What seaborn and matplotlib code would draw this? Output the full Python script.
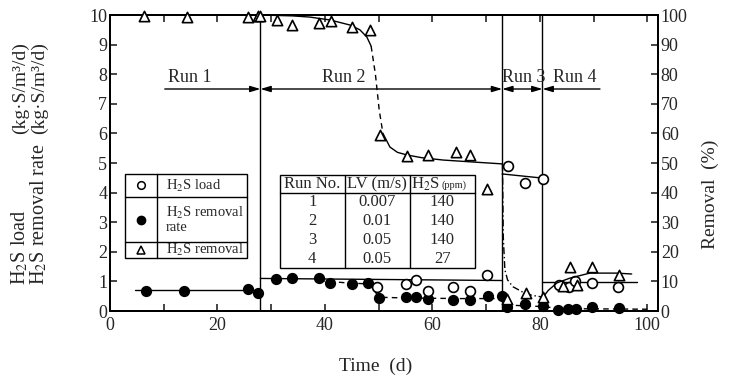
import matplotlib
matplotlib.use("Agg")
import matplotlib.pyplot as plt
import seaborn as sns
from matplotlib.patches import Rectangle

# --- data ---
# H2S removal rate (filled circles), kg-S/m3/d
rate_day = [6.7, 13.8, 25.7, 27.5, 30.9, 33.9, 38.9, 40.9, 45.0, 48.0, 50.0, 55.1, 56.9,
            59.2, 63.8, 67.0, 70.3, 72.9, 73.9, 77.2, 80.6, 83.3, 85.2, 86.7, 89.7, 94.7]
rate_val = [0.68, 0.68, 0.74, 0.61, 1.08, 1.11, 1.11, 0.95, 0.91, 0.95, 0.44, 0.47, 0.47,
            0.41, 0.37, 0.37, 0.51, 0.51, 0.14, 0.24, 0.17, 0.03, 0.07, 0.07, 0.14, 0.10]
# H2S load (open circles), kg-S/m3/d
load_day = [49.7, 55.1, 56.9, 59.2, 63.8, 67.0, 70.1, 74.0, 77.2, 80.6, 83.5, 85.4, 86.5, 89.7, 94.5]
load_val = [0.81, 0.91, 1.05, 0.68, 0.81, 0.68, 1.22, 4.90, 4.32, 4.46, 0.88, 0.81, 1.03, 0.95, 0.81]
# H2S removal (triangles), %
rem_day = [6.3, 14.3, 25.7, 27.5, 27.9, 31.1, 33.9, 38.9, 41.1, 45.0, 48.4, 50.2, 55.3, 59.2,
           64.4, 67.0, 70.1, 73.9, 77.4, 80.6, 84.3, 85.6, 86.9, 89.7, 94.7]
rem_val = [99.7, 99.4, 99.4, 99.7, 99.7, 98.3, 96.6, 97.3, 98.0, 95.9, 94.9, 59.5, 52.4, 52.7,
           53.7, 52.7, 41.2, 4.0, 6.2, 4.7, 8.5, 14.9, 8.7, 14.9, 12.2]

# trend lines
run1_x, run1_y = [4.7, 28], [0.71, 0.71]
load2_x, load2_y = [28, 73], [1.10, 1.03]
load3_x, load3_y = [73, 80.5], [4.63, 4.49]
load4_x, load4_y = [80.5, 98], [0.98, 0.98]
rate_fit_x = [39, 44, 47.5, 48.8, 49.6, 51, 55, 60, 65, 72.5, 73.2, 74, 80.5, 84, 100]
rate_fit_y = [1.03, 0.95, 0.92, 0.82, 0.58, 0.46, 0.44, 0.43, 0.42, 0.42, 0.30, 0.20, 0.15, 0.08, 0.06]
rem2a_x = [28, 34, 37.2, 41, 44.7, 46.5, 47.8, 48.6]
rem2a_y = [100, 99.7, 99.3, 98.3, 96.6, 95.0, 92.6, 89.5]
rem2b_x = [48.6, 49.4, 50.1, 50.8]
rem2b_y = [89.5, 80, 68, 60]
rem2c_x = [50.8, 52.1, 53.5, 55.3, 58, 62, 67, 73]
rem2c_y = [60, 55.4, 53.6, 52.7, 51.8, 51.0, 50.4, 49.7]
rem3_x = [73.05, 73.2, 73.5, 74.0, 75.0, 76.8, 78.5, 80.6]
rem3_y = [49.7, 25, 13.9, 10.5, 8.2, 6.4, 5.3, 4.7]
rem4_x = [80.6, 81.6, 83.2, 85.6, 89.3, 94.3, 97.1]
rem4_y = [4.7, 7.0, 9.5, 11.1, 12.8, 12.8, 12.5]

# runs
run_names = ["Run 1", "Run 2", "Run 3", "Run 4"]
run_start = [10.2, 28, 73, 80.5]
run_end = [28, 73, 80.5, 91.2]
run_label_x = [14.9, 43.6, 77.0, 86.5]
run_bounds = [28, 73, 80.5]

# conditions table
tab_run = ["1", "2", "3", "4"]
tab_lv = ["0.007", "0.01", "0.05", "0.05"]
tab_h2s = ["140", "140", "140", "27"]

sns.set_theme(style="ticks")
plt.rcParams["font.family"] = ["Liberation Serif", "DejaVu Serif"]
plt.rcParams["mathtext.fontset"] = "stix"
plt.rcParams["axes.linewidth"] = 1.4

FS = 13
fig = plt.figure(figsize=(7.33, 3.76), dpi=100)
ax = fig.add_axes([110 / 733, 65 / 376, 548 / 733, 296 / 376])
ax2 = ax.twinx()

# filled / open circles on left axis
sns.scatterplot(x=rate_day, y=rate_val, ax=ax, color="black", edgecolor="black",
                s=50, marker="o", linewidth=1, zorder=5, clip_on=False)
sns.scatterplot(x=load_day, y=load_val, ax=ax, facecolor="white", edgecolor="black",
                s=50, marker="o", linewidth=1.2, zorder=5, clip_on=False)
# triangles on right axis
sns.scatterplot(x=rem_day, y=rem_val, ax=ax2, facecolor="white", edgecolor="black",
                s=55, marker="^", linewidth=1.2, zorder=5, clip_on=False)

lw = 1.0
sns.lineplot(x=run1_x, y=run1_y, ax=ax, color="black", lw=lw)
sns.lineplot(x=load2_x, y=load2_y, ax=ax, color="black", lw=lw)
sns.lineplot(x=load3_x, y=load3_y, ax=ax, color="black", lw=lw)
sns.lineplot(x=load4_x, y=load4_y, ax=ax, color="black", lw=lw)
ax.plot(rate_fit_x, rate_fit_y, color="black", lw=lw, ls=(0, (4, 3)))

ax2.plot(rem2a_x, rem2a_y, color="black", lw=lw)
ax2.plot(rem2b_x, rem2b_y, color="black", lw=lw, ls=(0, (4, 3)))
ax2.plot(rem2c_x, rem2c_y, color="black", lw=lw)
ax2.plot(rem3_x, rem3_y, color="black", lw=lw, ls=(0, (5, 2, 1, 2)))
ax2.plot(rem4_x, rem4_y, color="black", lw=lw)

for xb in run_bounds:
    ax.axvline(xb, color="black", lw=1.0)

# run arrows
for i, name in enumerate(run_names):
    if i == 0:
        style = "-|>"
    elif i == 3:
        style = "<|-"
    else:
        style = "<|-|>"
    ax.annotate("", xy=(run_end[i], 7.5), xytext=(run_start[i], 7.5),
                arrowprops=dict(arrowstyle=style + ",head_length=0.5,head_width=0.15",
                                color="black", lw=1.0, shrinkA=0, shrinkB=0))
    ax.text(run_label_x[i], 7.6, name, ha="center", va="bottom", fontsize=FS)

# legend box (left)
lx0, lx1, lxc = 2.8, 25.5, 8.7
ly = [4.63, 3.85, 2.33, 1.79]
ax.add_patch(Rectangle((lx0, ly[3]), lx1 - lx0, ly[0] - ly[3], fill=True,
                       facecolor="white", edgecolor="black", lw=1.0, zorder=6))
ax.plot([lxc, lxc], [ly[3], ly[0]], color="black", lw=1.0, zorder=7)
for yy in ly[1:3]:
    ax.plot([lx0, lx1], [yy, yy], color="black", lw=1.0, zorder=7)
mx = (lx0 + lxc) / 2
ax.plot(mx, (ly[0] + ly[1]) / 2, "o", mfc="white", mec="black", ms=5.5, mew=1.1, zorder=8)
ax.plot(mx, (ly[1] + ly[2]) / 2, "o", mfc="black", mec="black", ms=6, zorder=8)
ax.plot(mx, (ly[2] + ly[3]) / 2, "^", mfc="white", mec="black", ms=5.5, mew=1.1, zorder=8)
LFS = 10.5
ax.text(10.4, (ly[0] + ly[1]) / 2, "H$_2$S load", va="center", fontsize=LFS, zorder=8)
ax.text(10.4, (ly[1] + ly[2]) / 2, "H$_2$S removal\nrate", va="center", fontsize=LFS,
        linespacing=1.0, zorder=8)
ax.text(10.4, (ly[2] + ly[3]) / 2, "H$_2$S removal", va="center", fontsize=LFS, zorder=8)

# conditions table (middle)
tx = [31.6, 43.7, 55.8, 67.9]
ty_top, ty_head, ty_bot = 4.59, 3.99, 1.45
ax.add_patch(Rectangle((tx[0], ty_bot), tx[3] - tx[0], ty_top - ty_bot, fill=True,
                       facecolor="white", edgecolor="black", lw=1.0, zorder=6))
for xx in tx[1:3]:
    ax.plot([xx, xx], [ty_bot, ty_top], color="black", lw=1.0, zorder=7)
ax.plot([tx[0], tx[3]], [ty_head, ty_head], color="black", lw=1.0, zorder=7)
cx = [(tx[j] + tx[j + 1]) / 2 for j in range(3)]
TFS = 12
hy = (ty_top + ty_head) / 2
ax.text(cx[0], hy, "Run No.", ha="center", va="center", fontsize=TFS, zorder=8)
ax.text(cx[1], hy, "LV (m/s)", ha="center", va="center", fontsize=TFS, zorder=8)
ax.text(61.5, hy, "H$_2$S", ha="right", va="center", fontsize=TFS, zorder=8)
ax.text(61.7, hy - 0.03, "(ppm)", ha="left", va="center", fontsize=7.5, zorder=8)
row_h = (ty_head - ty_bot) / 4
for k in range(4):
    yy = ty_head - row_h * (k + 0.5)
    ax.text(cx[0], yy, tab_run[k], ha="center", va="center", fontsize=TFS, zorder=8)
    ax.text(cx[1], yy, tab_lv[k], ha="center", va="center", fontsize=TFS, zorder=8)
    ax.text(cx[2], yy, tab_h2s[k], ha="center", va="center", fontsize=TFS, zorder=8)

# axes
ax.set_xlim(0, 102)
ax.set_ylim(0, 10)
ax2.set_ylim(0, 100)
ax.set_xticks(range(0, 101, 10))
ax.set_xticklabels([str(v) if v % 20 == 0 else "" for v in range(0, 101, 10)])
ax.set_yticks(range(0, 11))
ax2.set_yticks(range(0, 101, 10))
ax.tick_params(axis="x", direction="in", top=True, length=5, width=1.2, labelsize=FS, pad=4)
ax.tick_params(axis="y", direction="in", length=5, width=1.2, labelsize=FS, pad=2)
ax2.tick_params(axis="y", direction="in", length=5, width=1.2, labelsize=FS, pad=2)
for a in (ax, ax2):
    for sp in a.spines.values():
        sp.set_linewidth(1.4)
        sp.set_color("black")
ax.set_xlabel("")
ax.set_ylabel("")

# axis titles
fig.text(376 / 733, 1 - 366 / 376, "Time  (d)", ha="center", va="center", fontsize=14)
fig.text(20 / 733, 1 - 285 / 376, "H$_2$S load", rotation=90, ha="center", va="bottom", fontsize=14.5)
fig.text(39 / 733, 1 - 285 / 376, "H$_2$S removal rate", rotation=90, ha="center", va="bottom", fontsize=14.5)
fig.text(20 / 733, 1 - 42 / 376, "(kg·S/m³/d)", rotation=90, ha="center", va="top", fontsize=14)
fig.text(39 / 733, 1 - 42 / 376, "(kg·S/m³/d)", rotation=90, ha="center", va="top", fontsize=14)
fig.text(710 / 733, 1 - 194 / 376, "Removal  (%)", rotation=90, ha="center", va="center", fontsize=14)

fig.savefig("out.png", dpi=100)
